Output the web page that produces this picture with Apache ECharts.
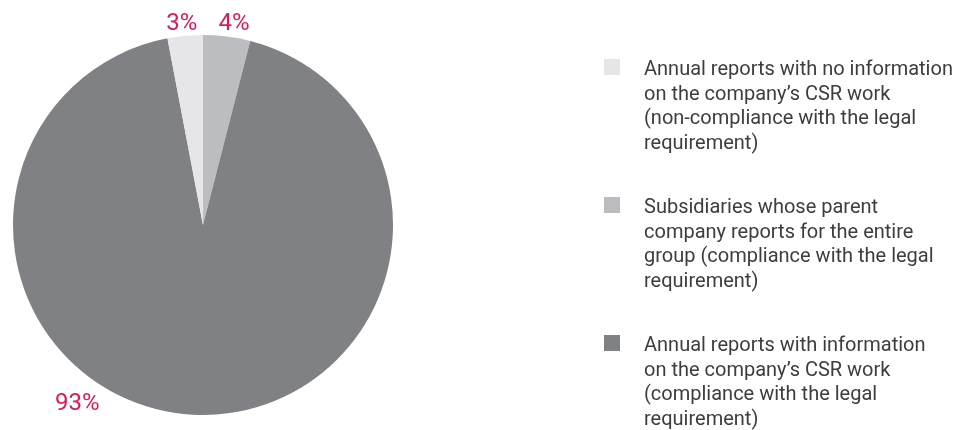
<!DOCTYPE html>
<html>
<head>
<meta charset="utf-8">
<script src="https://cdn.jsdelivr.net/npm/echarts@6/dist/echarts.min.js"></script>
<style>
html,body{margin:0;padding:0;background:#fff;}
#chart{width:961px;height:430px;}
</style>
</head>
<body>
<div id="chart"></div>
<script>
// Data (clockwise from 12 o'clock)
const categories = [
  'Subsidiaries whose parent company reports for the entire group (compliance with the legal requirement)',
  'Annual reports with information on the company’s CSR work (compliance with the legal requirement)',
  'Annual reports with no information on the company’s CSR work (non-compliance with the legal requirement)'
];
const values = [4, 93, 3];
const valueLabels = ['4%', '93%', '3%'];
const legendOrder = [2, 0, 1];
const legendLines = [
  ['Subsidiaries whose parent', 'company reports for the entire', 'group (compliance with the legal', 'requirement)'],
  ['Annual reports with information', 'on the company’s CSR work', '(compliance with the legal', 'requirement)'],
  ['Annual reports with no information', 'on the company’s CSR work', '(non-compliance with the legal', 'requirement)']
];
const colors = ['#bcbdc0', '#808185', '#e6e6e8'];

const CX = 203, CY = 225, R = 190;
const FONT = 'Roboto';

// label placement (degrees clockwise from top, distance from centre)
const labelAngle = {0: 8.8, 1: 215, 2: -6};
const labelDist = {0: 203.5, 1: 219, 2: 202.5};

const chart = echarts.init(document.getElementById('chart'), null, {renderer: 'canvas'});
chart.setOption({
  animation: false,
  backgroundColor: '#ffffff',
  legend: {
    orient: 'vertical',
    left: 604,
    top: 58,
    height: 420,
    padding: 0,
    itemWidth: 35,
    itemHeight: 96,
    itemGap: 40,
    icon: 'path://M0,0L16,0L16,16L0,16Z M35,96L35,96',
    data: legendOrder.map(i => categories[i]),
    formatter: function(name){
      const i = categories.indexOf(name);
      return legendLines[i].join('\n');
    },
    itemStyle: {borderWidth: 0},
    textStyle: {
      fontFamily: FONT,
      fontSize: 20,
      lineHeight: 24.5,
      color: '#3d3d3f'
    }
  },
  series: [{
    type: 'pie',
    center: [CX, CY],
    radius: R,
    startAngle: 90,
    clockwise: true,
    data: categories.map((c, i) => ({name: c, value: values[i], itemStyle: {color: colors[i]}})),
    label: {
      show: true,
      position: 'outside',
      formatter: p => valueLabels[p.dataIndex],
      fontFamily: FONT,
      fontSize: 24,
      color: '#d81b5c'
    },
    labelLine: {show: false},
    labelLayout: function(params){
      const i = params.dataIndex;
      const a = labelAngle[i] * Math.PI / 180;
      const d = labelDist[i];
      return {
        x: CX + d * Math.sin(a),
        y: CY - d * Math.cos(a),
        align: 'center',
        verticalAlign: 'middle'
      };
    },
    emphasis: {disabled: true}
  }]
});
</script>
</body>
</html>
